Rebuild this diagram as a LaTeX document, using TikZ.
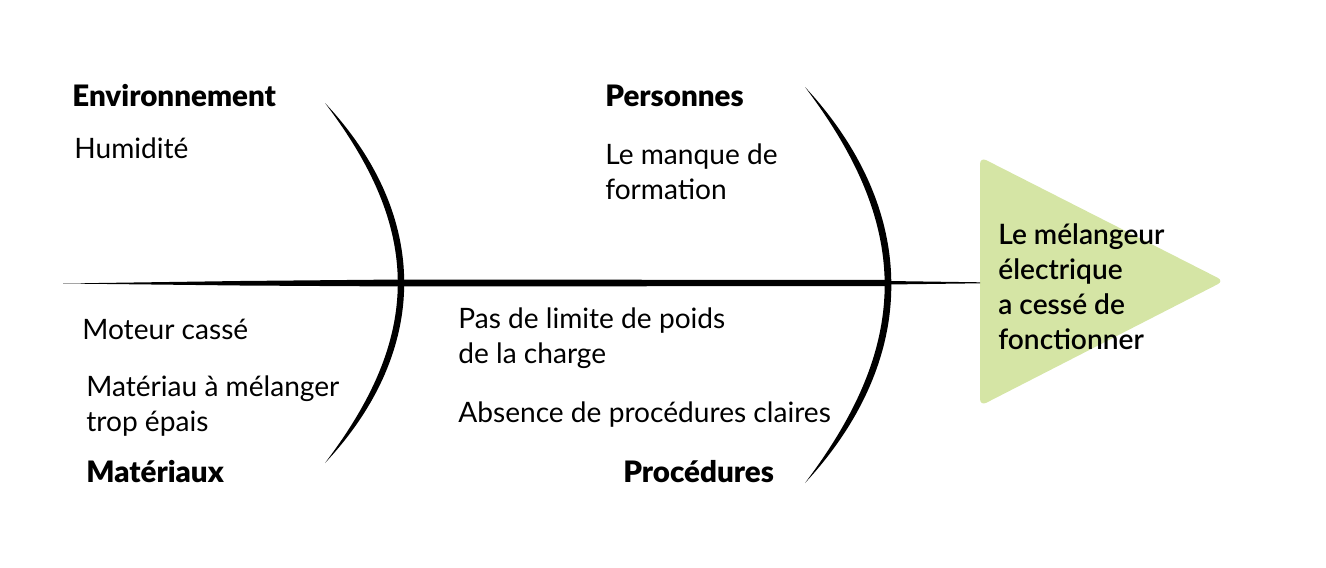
\documentclass[tikz,border=0pt]{standalone}
\usepackage{fontspec}
\setmainfont{Lato}
\newfontfamily\headfont{Lato Black}
\newfontfamily\effectfont{Lato Semibold}
\usepackage{tikz}
\definecolor{effectgreen}{RGB}{213,229,165}
\tikzset{cause/.style = {anchor=west, inner sep=0pt, align=left, font=\fontsize{16}{19.9}\selectfont}}
\tikzset{category/.style = {anchor=west, inner sep=0pt, font=\fontsize{16.8}{19.9}\selectfont\headfont}}
\tikzset{effect/.style = {anchor=west, inner sep=0pt, align=left, font=\fontsize{16}{19.9}\selectfont\effectfont}}
\tikzset{bone/.style = {fill=black, draw=none}}

\begin{document}
\begin{tikzpicture}[x=0.02cm, y=-0.02cm]
\useasboundingbox (0,0) rectangle (1326,568);

% head
\fill[effectgreen, rounded corners=4pt] (980,157) -- (1224,281) -- (980,406) -- cycle;
\node[effect] (effect) at (998,287) {Le mélangeur\\électrique\\a cessé de\\fonctionner};

% spine
\fill[bone] (63,283.5) -- (240,281) -- (400,279.5) -- (888,280) -- (888,281) -- (980,282.3)
  -- (980,283.3) -- (888,284.5) -- (888,286) -- (400,286.5) -- (240,285.5) -- cycle;

% bones
\fill[bone] (325,103) .. controls (378.9,160.3) and (404.3,223) .. (404.2,283)
  .. controls (404.3,343) and (378.9,405.7) .. (325,463)
  .. controls (372.5,400.3) and (397.7,343) .. (397.8,283)
  .. controls (397.7,223) and (372.5,165.7) .. cycle;
\fill[bone] (805,87) .. controls (863.7,150.2) and (891.5,219) .. (891.3,285)
  .. controls (891.5,351) and (863.7,419.8) .. (805,483)
  .. controls (856.9,414.2) and (884.5,351) .. (884.7,285)
  .. controls (884.5,219) and (856.9,155.8) .. cycle;

% categories
\node[category] (env) at (72,96) {Environnement};
\node[category] (pers) at (605,96) {Personnes};
\node[category] (mat) at (86,472) {Matériaux};
\node[category] (proc) at (623,472) {Procédures};

% causes
\node[cause] (humid) at (74,148) {Humidité};
\node[cause] (train) at (605,172) {Le manque de\\formation};
\node[cause] (motor) at (82,329) {Moteur cassé};
\node[cause] (thick) at (86,406) {Matériau à mélanger\\trop épais};
\node[cause] (weight) at (458,338) {Pas de limite de poids\\de la charge};
\node[cause] (rules) at (458,415) {Absence de procédures claires};
\end{tikzpicture}
\end{document}
